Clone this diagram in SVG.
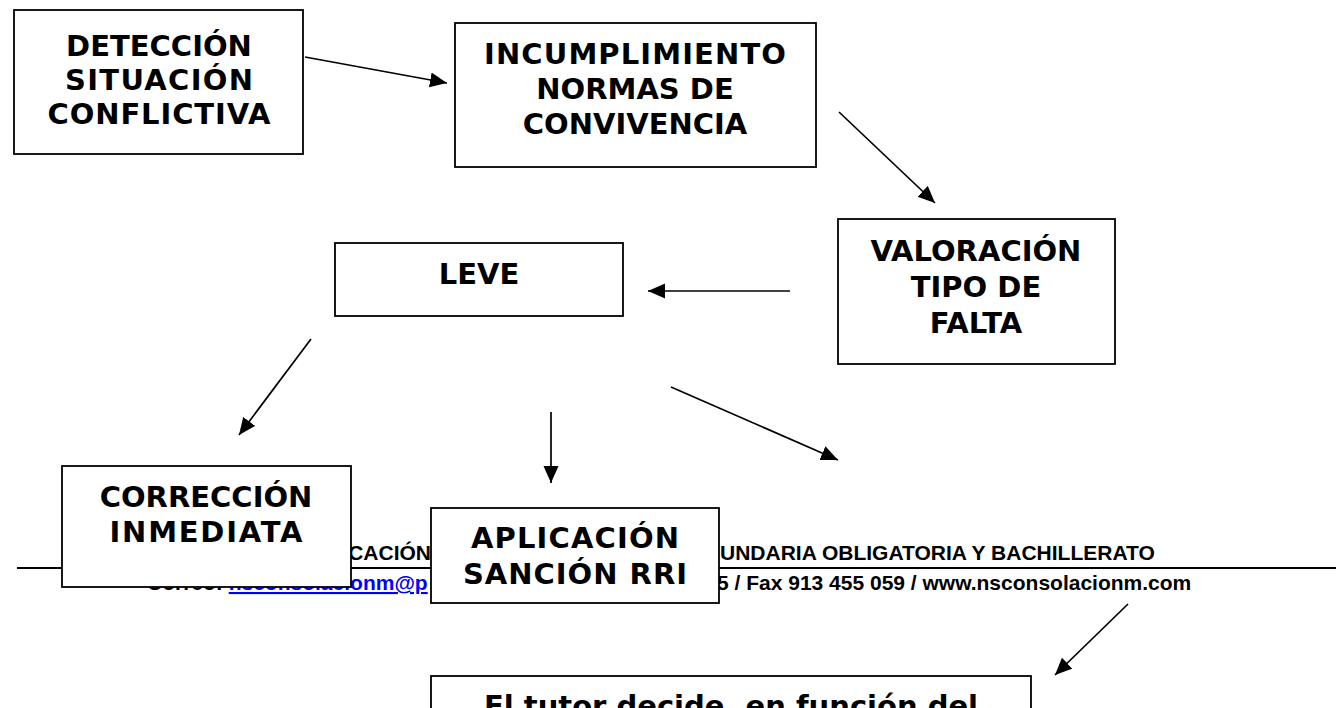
<svg xmlns="http://www.w3.org/2000/svg" width="1344" height="708" viewBox="0 0 1344 708">
<defs>
<style>
.box{fill:#fff;stroke:#000;stroke-width:1.8}
.t{font-family:"DejaVu Sans",Verdana,sans-serif;font-weight:bold;font-size:29px;fill:#000;text-anchor:middle}
.ft{font-family:"Liberation Sans",Arial,sans-serif;font-weight:bold;font-size:21px;fill:#000}
.lnk{fill:#0000ff;text-decoration:underline}
.c{stroke:#000;stroke-width:1.7;fill:none;marker-end:url(#ah)}
</style>
<marker id="ah" markerUnits="userSpaceOnUse" markerWidth="18" markerHeight="16" refX="17" refY="7.5" orient="auto">
<path d="M0,0 L17,7.5 L0,15 z" fill="#000"/>
</marker>
</defs>
<rect width="1344" height="708" fill="#fff"/>
<g id="footer">
<line x1="17" y1="568" x2="1336" y2="568" stroke="#000" stroke-width="2"/>
<text class="ft" x="431" y="560" text-anchor="end">UCACIÓN</text>
<text class="ft" x="720" y="560">UNDARIA OBLIGATORIA Y BACHILLERATO</text>
<text class="ft" x="147" y="590">Correo: <tspan class="lnk">nsconsolacionm@p</tspan></text>
<text class="ft" x="717" y="590">5 / Fax 913 455 059 / www.nsconsolacionm.com</text>
</g>
<g id="n1"><rect class="box" x="14" y="10" width="289" height="144"/>
<text class="t" x="159" y="56">DETECCIÓN</text><text class="t" x="159" y="90" textLength="188" lengthAdjust="spacing">SITUACIÓN</text><text class="t" x="159" y="124" textLength="223" lengthAdjust="spacing">CONFLICTIVA</text></g>
<g id="n2"><rect class="box" x="455" y="23" width="361" height="144"/>
<text class="t" x="635" y="64" textLength="302" lengthAdjust="spacing">INCUMPLIMIENTO</text><text class="t" x="635" y="99">NORMAS DE</text><text class="t" x="635" y="134">CONVIVENCIA</text></g>
<g id="n3"><rect class="box" x="838" y="219" width="277" height="145"/>
<text class="t" x="976" y="261">VALORACIÓN</text><text class="t" x="976" y="297">TIPO DE</text><text class="t" x="976" y="333">FALTA</text></g>
<g id="n4"><rect class="box" x="335" y="243" width="288" height="73"/>
<text class="t" x="479" y="284">LEVE</text></g>
<g id="n5"><rect class="box" x="62" y="466" width="289" height="121"/>
<text class="t" x="206" y="507">CORRECCIÓN</text><text class="t" x="206" y="542" textLength="193" lengthAdjust="spacing">INMEDIATA</text></g>
<g id="n6"><rect class="box" x="431" y="508" width="288" height="95"/>
<text class="t" x="575" y="548" textLength="208" lengthAdjust="spacing">APLICACIÓN</text><text class="t" x="575" y="584" textLength="224" lengthAdjust="spacing">SANCIÓN RRI</text></g>
<g id="n7"><rect class="box" x="431" y="676" width="600" height="80"/>
<text class="t" x="731" y="716">El tutor decide, en función del</text></g>
<g id="connectors">
<line class="c" x1="305" y1="57" x2="447" y2="83"/>
<line class="c" x1="839" y1="112" x2="935" y2="203"/>
<line class="c" x1="790" y1="291" x2="648" y2="291"/>
<line class="c" x1="311" y1="339" x2="239" y2="435"/>
<line class="c" x1="551" y1="412" x2="551" y2="483"/>
<line class="c" x1="671" y1="387" x2="838" y2="460"/>
<line class="c" x1="1128" y1="604" x2="1055" y2="675"/>
</g>
</svg>
